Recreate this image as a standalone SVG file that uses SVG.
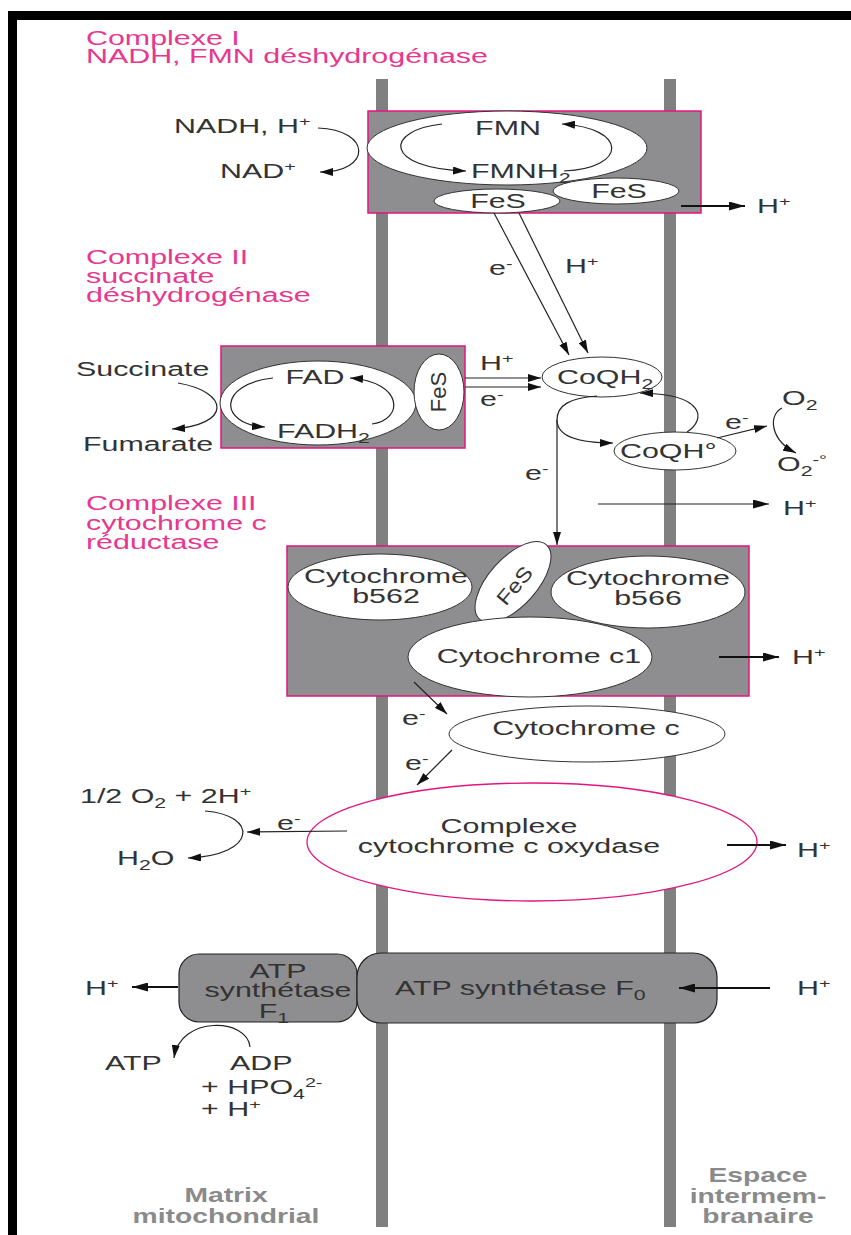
<svg xmlns="http://www.w3.org/2000/svg" width="851" height="1235" viewBox="0 0 851 1235">
<style>
.t{font-family:"Liberation Sans",Arial,sans-serif;font-size:20px;fill:#333}
.p{fill:#e8378e}
.b{font-weight:bold;fill:#8a8a8a;font-size:19.5px}
.sb{font-size:14px}
.sp{font-size:13px}
.ln{fill:none;stroke:#222;stroke-width:1.2}
.th{fill:none;stroke:#111;stroke-width:2.2}
.box{fill:#8e8e90;stroke:#e3157f;stroke-width:1.5}
.atp{fill:#8e8e90;stroke:#222;stroke-width:1.2}
.el{fill:#fff;stroke:#333;stroke-width:1}
.mem{fill:#808080}
</style>
<defs>
<marker id="ah" viewBox="0 0 13 8" refX="13" refY="4" markerWidth="13" markerHeight="8" orient="auto" markerUnits="userSpaceOnUse"><path d="M0,0 L13,4 L0,8 z" fill="#111"/></marker>
<marker id="ahb" viewBox="0 0 16 9" refX="16" refY="4.5" markerWidth="16" markerHeight="9" orient="auto" markerUnits="userSpaceOnUse"><path d="M0,0 L16,4.5 L0,9 z" fill="#111"/></marker>
</defs>
<rect width="851" height="1235" fill="#fff"/>
<g id="frame">
<rect x="8" y="11" width="843" height="9" fill="#000"/>
<rect x="8" y="11" width="9" height="1224" fill="#000"/>
</g>
<g id="membranes">
<rect class="mem" x="376" y="79" width="12" height="1148"/>
<rect class="mem" x="664" y="79" width="12" height="1148"/>
</g>
<g id="titles">
<text class="t p" transform="translate(86,45) scale(1.52,1)">Complexe I</text>
<text class="t p" transform="translate(86,63) scale(1.52,1)">NADH, FMN déshydrogénase</text>
<text class="t p" transform="translate(86,264) scale(1.52,1)">Complexe II</text>
<text class="t p" transform="translate(86,283) scale(1.52,1)">succinate</text>
<text class="t p" transform="translate(86,302) scale(1.52,1)">déshydrogénase</text>
<text class="t p" transform="translate(86,510) scale(1.52,1)">Complexe III</text>
<text class="t p" transform="translate(86,530) scale(1.52,1)">cytochrome c</text>
<text class="t p" transform="translate(86,549) scale(1.52,1)">réductase</text>
</g>
<g id="complexe1">
<rect class="box" x="368" y="111" width="333" height="102"/>
<ellipse class="el" cx="507" cy="148" rx="140" ry="37"/>
<ellipse class="el" cx="616" cy="191" rx="63" ry="13"/>
<ellipse class="el" cx="497" cy="201" rx="63" ry="12"/>
<text class="t" text-anchor="middle" transform="translate(508,135) scale(1.52,1)">FMN</text>
<text class="t" transform="translate(471,178) scale(1.52,1)">FMNH<tspan class="sb" dy="5">2</tspan></text>
<text class="t" text-anchor="middle" transform="translate(498,208) scale(1.52,1)">FeS</text>
<text class="t" text-anchor="middle" transform="translate(619,198) scale(1.52,1)">FeS</text>
</g>
<g id="complexe2">
<rect class="box" x="221" y="346" width="244" height="102"/>
<ellipse class="el" cx="318" cy="403" rx="98" ry="42"/>
<ellipse class="el" cx="439" cy="392" rx="25" ry="38"/>
<text class="t" text-anchor="middle" transform="translate(315,384) scale(1.52,1)">FAD</text>
<text class="t" transform="translate(277,438) scale(1.52,1)">FADH<tspan class="sb" dy="5">2</tspan></text>
<text class="t" text-anchor="middle" transform="translate(446,392) rotate(-90)" style="font-size:22px">FeS</text>
</g>
<g id="coq">
<ellipse class="el" cx="602" cy="377" rx="60" ry="20"/>
<text class="t" transform="translate(557,384) scale(1.52,1)">CoQH<tspan class="sb" dy="5">2</tspan></text>
</g>
<g id="coqh">
<ellipse class="el" cx="675" cy="451" rx="61" ry="19"/>
<text class="t" transform="translate(620,458) scale(1.52,1)">CoQH°</text>
</g>
<g id="complexe3">
<rect class="box" x="287" y="546" width="462" height="150"/>
<ellipse class="el" cx="380" cy="587" rx="92" ry="33"/>
<ellipse class="el" cx="648" cy="592" rx="97" ry="36"/>
<ellipse class="el" cx="513" cy="582" rx="50" ry="24" transform="rotate(-48 513 582)"/>
<ellipse class="el" cx="530" cy="657" rx="122" ry="40"/>
<text class="t" text-anchor="middle" transform="translate(386,583) scale(1.52,1)">Cytochrome</text>
<text class="t" text-anchor="middle" transform="translate(386,603) scale(1.52,1)">b562</text>
<text class="t" text-anchor="middle" transform="translate(648,585) scale(1.52,1)">Cytochrome</text>
<text class="t" text-anchor="middle" transform="translate(648,605) scale(1.52,1)">b566</text>
<text class="t" text-anchor="middle" transform="translate(520,590) rotate(-50) scale(1.2,1)">FeS</text>
<text class="t" text-anchor="middle" transform="translate(539,663) scale(1.52,1)">Cytochrome c1</text>
</g>
<g id="cytc">
<ellipse class="el" cx="587" cy="734" rx="138" ry="28"/>
<text class="t" text-anchor="middle" transform="translate(586,735) scale(1.52,1)">Cytochrome c</text>
</g>
<g id="oxydase">
<ellipse cx="532" cy="842" rx="225" ry="59" fill="#fff" stroke="#e3157f" stroke-width="1.3"/>
<text class="t" text-anchor="middle" transform="translate(509,833) scale(1.52,1)">Complexe</text>
<text class="t" text-anchor="middle" transform="translate(509,853) scale(1.52,1)">cytochrome c oxydase</text>
</g>
<g id="atpF1">
<rect class="atp" x="179" y="954" width="178" height="68" rx="20"/>
<text class="t" text-anchor="middle" transform="translate(278,978) scale(1.52,1)">ATP</text>
<text class="t" text-anchor="middle" transform="translate(278,997) scale(1.52,1)">synthétase</text>
<text class="t" text-anchor="middle" transform="translate(274,1018) scale(1.52,1)">F<tspan class="sb" dy="5">1</tspan></text>
</g>
<g id="atpF0">
<rect class="atp" x="357" y="953" width="360" height="70" rx="24"/>
<text class="t" transform="translate(395,995) scale(1.52,1)">ATP synthétase F<tspan class="sb" dy="5">0</tspan></text>
</g>
<g id="connectors">
<path class="ln" d="M318,128 C372,130 372,172 320,172" marker-end="url(#ah)"/>
<path class="ln" d="M442,124 C385,130 382,168 466,171" marker-end="url(#ah)"/>
<path class="ln" d="M564,171 C628,168 628,128 562,124" marker-end="url(#ah)"/>
<path class="th" d="M681,206 L745,206" marker-end="url(#ahb)"/>
<path class="ln" d="M494,213 L569,355" stroke-width="1.4" marker-end="url(#ah)"/>
<path class="ln" d="M519,213 L588,353" stroke-width="1.4" marker-end="url(#ah)"/>
<path class="ln" d="M273,378 C218,384 218,424 265,427" marker-end="url(#ah)"/>
<path class="ln" d="M372,424 C404,420 404,382 350,378" marker-end="url(#ah)"/>
<path class="ln" d="M178,383 C230,392 232,425 172,429" marker-end="url(#ah)"/>
<path class="ln" d="M465,378 L541,378" stroke-width="1.6" marker-end="url(#ah)"/>
<path class="ln" d="M465,387 L541,387" stroke-width="1.6" marker-end="url(#ah)"/>
<path class="ln" d="M597,396 C570,398 557,405 557,420 L557,545" marker-end="url(#ah)"/>
<path class="ln" d="M557,420 C557,436 578,443 613,443" marker-end="url(#ah)"/>
<path class="ln" d="M687,432 C706,420 706,394 640,393" marker-end="url(#ah)"/>
<path class="ln" d="M717,438 L767,426" marker-end="url(#ah)"/>
<path class="ln" d="M782,408 C768,415 770,440 796,453" marker-end="url(#ah)"/>
<path class="ln" d="M598,504 L769,504" marker-end="url(#ahb)"/>
<path class="th" d="M719,657 L779,657" marker-end="url(#ahb)"/>
<path class="ln" d="M414,682 L447,714" marker-end="url(#ah)"/>
<path class="ln" d="M452,750 L417,785" marker-end="url(#ah)"/>
<path class="ln" d="M347,831 L247,832" marker-end="url(#ah)"/>
<path class="ln" d="M205,811 C258,815 258,855 188,858" marker-end="url(#ah)"/>
<path class="th" d="M727,845 L786,845" marker-end="url(#ahb)"/>
<path class="th" d="M178,987 L132,987" marker-end="url(#ahb)"/>
<path class="th" d="M770,988 L679,988" marker-end="url(#ahb)"/>
<path class="ln" d="M250,1047 C248,1018 180,1015 174,1058" marker-end="url(#ah)"/>
</g>
<g id="labels">
<text class="t" transform="translate(174,133) scale(1.52,1)">NADH, H<tspan class="sp" dy="-7">+</tspan></text>
<text class="t" transform="translate(220,178) scale(1.52,1)">NAD<tspan class="sp" dy="-7">+</tspan></text>
<text class="t" transform="translate(757,213) scale(1.52,1)">H<tspan class="sp" dy="-7">+</tspan></text>
<text class="t" transform="translate(489,275) scale(1.52,1)">e<tspan class="sp" dy="-7">-</tspan></text>
<text class="t" transform="translate(565,273) scale(1.52,1)">H<tspan class="sp" dy="-7">+</tspan></text>
<text class="t" transform="translate(76,376) scale(1.52,1)">Succinate</text>
<text class="t" transform="translate(83,451) scale(1.52,1)">Fumarate</text>
<text class="t" transform="translate(480,370) scale(1.52,1)">H<tspan class="sp" dy="-7">+</tspan></text>
<text class="t" transform="translate(480,406) scale(1.52,1)">e<tspan class="sp" dy="-7">-</tspan></text>
<text class="t" transform="translate(725,429) scale(1.52,1)">e<tspan class="sp" dy="-7">-</tspan></text>
<text class="t" transform="translate(782,405) scale(1.52,1)">O<tspan class="sb" dy="5">2</tspan></text>
<text class="t" transform="translate(777,471) scale(1.52,1)">O<tspan class="sb" dy="5">2</tspan><tspan class="sp" dy="-12">-°</tspan></text>
<text class="t" transform="translate(525,480) scale(1.52,1)">e<tspan class="sp" dy="-7">-</tspan></text>
<text class="t" transform="translate(783,515) scale(1.52,1)">H<tspan class="sp" dy="-7">+</tspan></text>
<text class="t" transform="translate(792,664) scale(1.52,1)">H<tspan class="sp" dy="-7">+</tspan></text>
<text class="t" transform="translate(402,725) scale(1.52,1)">e<tspan class="sp" dy="-7">-</tspan></text>
<text class="t" transform="translate(405,770) scale(1.52,1)">e<tspan class="sp" dy="-7">-</tspan></text>
<text class="t" transform="translate(277,830) scale(1.52,1)">e<tspan class="sp" dy="-7">-</tspan></text>
<text class="t" transform="translate(80,803) scale(1.52,1)">1/2 O<tspan class="sb" dy="5">2</tspan><tspan dy="-5"> + 2H</tspan><tspan class="sp" dy="-7">+</tspan></text>
<text class="t" transform="translate(117,865) scale(1.52,1)">H<tspan class="sb" dy="5">2</tspan><tspan dy="-5">O</tspan></text>
<text class="t" transform="translate(797,857) scale(1.52,1)">H<tspan class="sp" dy="-7">+</tspan></text>
<text class="t" transform="translate(85,995) scale(1.52,1)">H<tspan class="sp" dy="-7">+</tspan></text>
<text class="t" transform="translate(797,995) scale(1.52,1)">H<tspan class="sp" dy="-7">+</tspan></text>
<text class="t" transform="translate(105,1070) scale(1.52,1)">ATP</text>
<text class="t" transform="translate(230,1070) scale(1.52,1)">ADP</text>
<text class="t" transform="translate(201,1094) scale(1.52,1)">+ HPO<tspan class="sb" dy="5">4</tspan><tspan class="sp" dy="-12">2-</tspan></text>
<text class="t" transform="translate(201,1116) scale(1.52,1)">+ H<tspan class="sp" dy="-7">+</tspan></text>
<text class="t b" text-anchor="middle" transform="translate(226,1202) scale(1.45,1)">Matrix</text>
<text class="t b" text-anchor="middle" transform="translate(226,1223) scale(1.45,1)">mitochondrial</text>
<text class="t b" text-anchor="middle" transform="translate(758,1182) scale(1.45,1)">Espace</text>
<text class="t b" text-anchor="middle" transform="translate(758,1203) scale(1.45,1)">intermem-</text>
<text class="t b" text-anchor="middle" transform="translate(758,1223) scale(1.45,1)">branaire</text>
</g>
</svg>
